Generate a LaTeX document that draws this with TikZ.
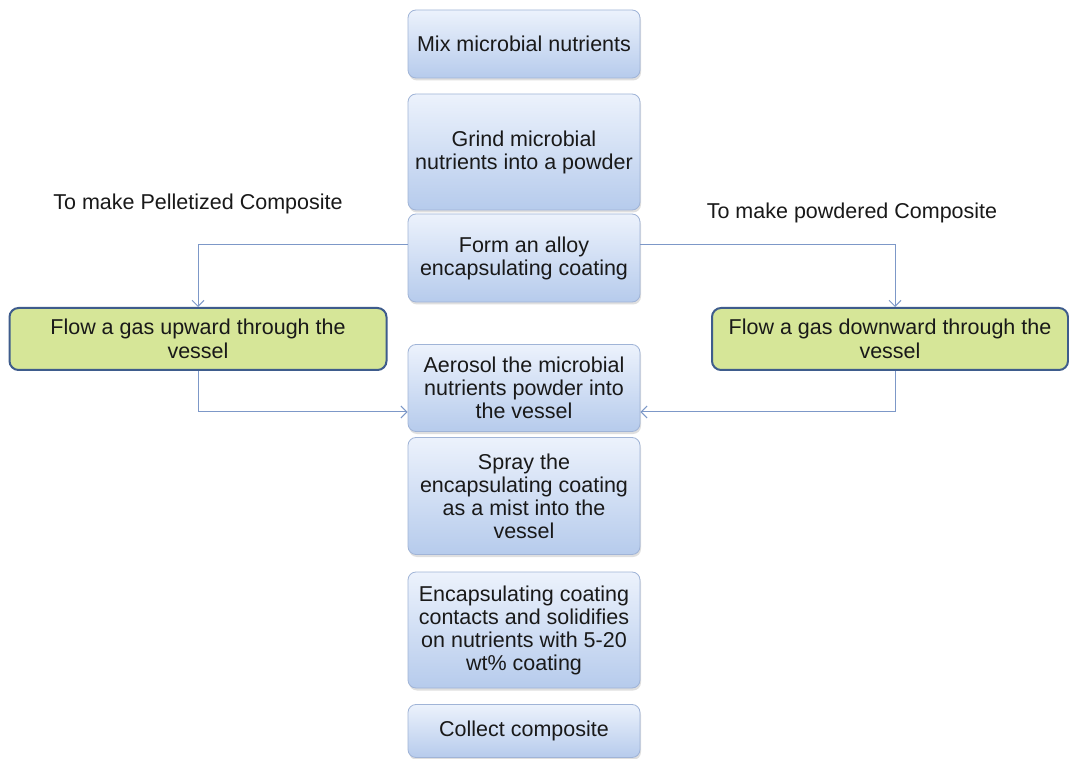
\documentclass[tikz,border=0pt]{standalone}
\usepackage{fontspec}
\setmainfont{Liberation Sans}
\usetikzlibrary{arrows.meta,shadows}
\definecolor{boxtop}{RGB}{236,242,252}
\definecolor{boxbot}{RGB}{182,203,236}
\definecolor{boxline}{RGB}{160,180,215}
\definecolor{greenfill}{RGB}{214,230,152}
\definecolor{greenline}{RGB}{62,92,140}
\definecolor{conncol}{RGB}{125,152,200}
\definecolor{txt}{RGB}{25,25,25}
\tikzset{
  bluebox/.style={draw=boxline, line width=0.8pt, rounded corners=8pt,
    top color=boxtop, bottom color=boxbot, minimum width=232pt,
    align=center, font=\fontsize{21.5}{23}\selectfont, text=txt, inner sep=1pt,
    drop shadow={opacity=0.25, shadow xshift=1pt, shadow yshift=-2.5pt}},
  greenbox/.style={draw=greenline, line width=2pt, rounded corners=9pt,
    fill=greenfill, align=center, minimum height=62pt, text=txt,
    font=\fontsize{21.5}{24}\selectfont, inner sep=1pt},
  sidelabel/.style={font=\fontsize{21.5}{24}\selectfont, text=txt},
  conn/.style={draw=conncol, line width=1pt, -{Straight Barb[length=6pt,width=12pt]}}
}
\begin{document}
\begin{tikzpicture}[x=1pt,y=-1pt]
\useasboundingbox (0,0) rectangle (1069,759);
\fill[white] (0,0) rectangle (1069,759);
\node[bluebox, minimum height=68pt] (b1) at (524,44) {Mix microbial nutrients};
\node[bluebox, minimum height=116pt] (b2) at (524,152) {Grind microbial\\nutrients into a powder};
\node[bluebox, minimum height=88pt] (b3) at (524,258) {Form an alloy\\encapsulating coating};
\node[bluebox, minimum height=87pt] (b4) at (524,388) {Aerosol the microbial\\nutrients powder into\\the vessel};
\node[bluebox, minimum height=117pt] (b5) at (524,496) {Spray the\\encapsulating coating\\as a mist into the\\vessel};
\node[bluebox, minimum height=116pt] (b6) at (524,630) {Encapsulating coating\\contacts and solidifies\\on nutrients with 5-20\\wt\% coating};
\node[bluebox, minimum height=53pt] (b7) at (524,731) {Collect composite};
\node[greenbox, minimum width=377pt] (gl) at (198,339) {Flow a gas upward through the\\vessel};
\node[greenbox, minimum width=356pt] (gr) at (890,339) {Flow a gas downward through the\\vessel};
\node[sidelabel] (ll) at (198,204) {To make Pelletized Composite};
\node[sidelabel] (lr) at (852,213) {To make powdered Composite};
\coordinate (cl) at (198,245);
\coordinate (cr) at (895,245);
\coordinate (dl) at (198,412);
\coordinate (dr) at (895,412);
\draw[conn] ([yshift=13pt]b3.west) -- (cl) -- (cl |- gl.north);
\draw[conn] ([yshift=13pt]b3.east) -- (cr) -- (cr |- gr.north);
\draw[conn] (cl |- gl.south) -- (dl) -- (dl -| b4.west);
\draw[conn] (cr |- gr.south) -- (dr) -- (dr -| b4.east);
\end{tikzpicture}
\end{document}
